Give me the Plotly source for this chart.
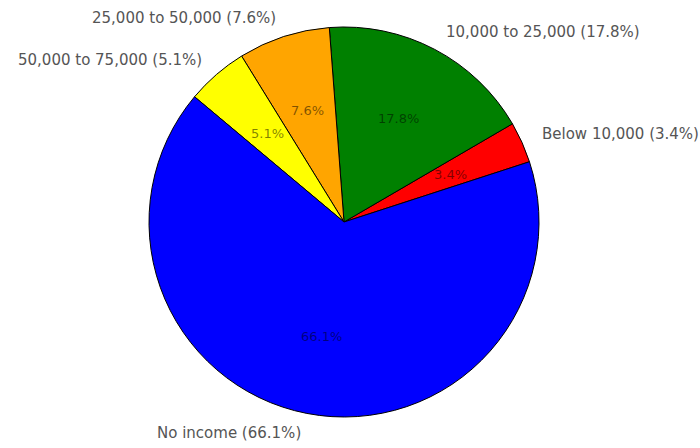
import math
import plotly.graph_objects as go

# Income bracket shares (percent of respondents)
categories = ["Below 10,000", "10,000 to 25,000", "25,000 to 50,000",
              "50,000 to 75,000", "No income"]
shares = [3.4, 17.8, 7.6, 5.1, 66.1]
colors = ["#FF0000", "#008000", "#FFA500", "#FFFF00", "#0000FF"]

W, H = 700, 448
CX, CY, R = 344, 222, 195      # pie centre and radius in pixels
START_DEG = 18                 # first slice starts here, counter-clockwise

total = sum(shares)
# plotly anchors the end of the first slice at `rotation` when going
# counter-clockwise, so shift by that slice's span
first_span = 360 * shares[0] / total

fig = go.Figure()
fig.add_trace(go.Pie(
    labels=categories,
    values=shares,
    sort=False,
    direction="counterclockwise",
    rotation=90 - START_DEG - first_span,
    marker=dict(colors=colors, line=dict(color="#000000", width=1)),
    textinfo="none",
    hoverinfo="label+percent",
    showlegend=False,
    domain=dict(x=[(CX - R) / W, (CX + R) / W],
                y=[(H - CY - R) / H, (H - CY + R) / H]),
))

# Slice labels: category names outside the pie, percentages inside
angle = START_DEG
for name, v in zip(categories, shares):
    span = 360 * v / total
    mid = math.radians(angle + span / 2)
    angle += span
    ca, sa = math.cos(mid), math.sin(mid)
    # outer label at 1.1 * radius
    ox, oy = CX + 1.1 * R * ca, CY - 1.1 * R * sa
    fig.add_annotation(
        x=ox / W, y=(H - oy) / H, xref="paper", yref="paper",
        text=f"{name} ({v:.1f}%)", showarrow=False,
        xanchor="left" if ca >= 0 else "right", yanchor="middle",
        font=dict(family="DejaVu Sans", size=15, color="#555555"),
    )
    # percentage at 0.6 * radius
    ix, iy = CX + 0.6 * R * ca, CY - 0.6 * R * sa
    fig.add_annotation(
        x=ix / W, y=(H - iy) / H, xref="paper", yref="paper",
        text=f"{v:.1f}%", showarrow=False,
        xanchor="center", yanchor="middle",
        font=dict(family="DejaVu Sans", size=13, color="rgba(0,0,0,0.5)"),
    )

fig.update_layout(
    width=W, height=H,
    margin=dict(l=0, r=0, t=0, b=0),
    paper_bgcolor="#FFFFFF",
    plot_bgcolor="#FFFFFF",
)

fig.write_html("out.html")
